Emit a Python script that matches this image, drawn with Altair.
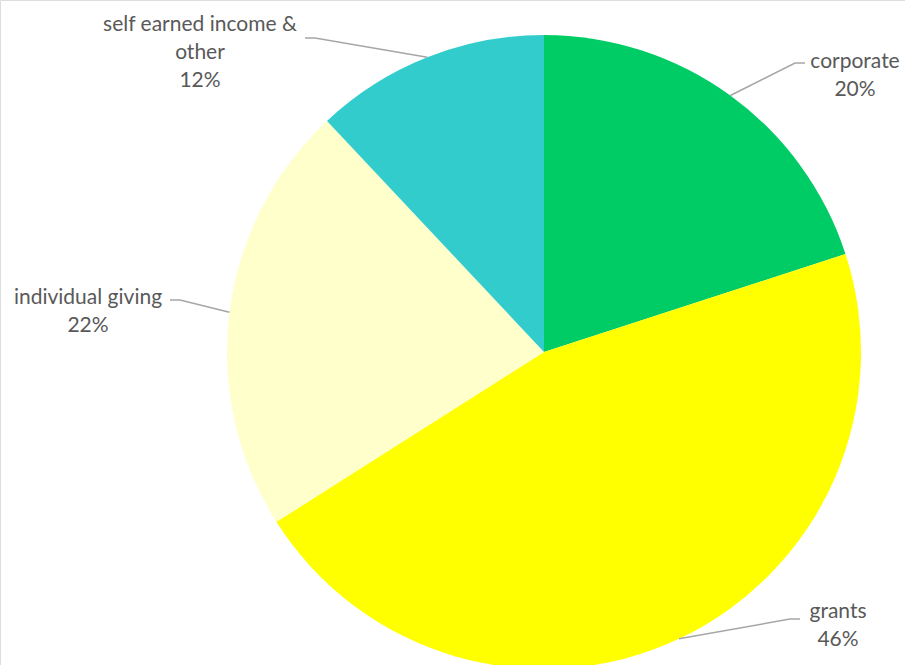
import altair as alt
import pandas as pd
import numpy as np

categories = ["corporate", "grants", "individual giving", "self earned income & other"]
shares = [20, 46, 22, 12]
colors = ["#00CC66", "#FFFF00", "#FFFFCC", "#33CCCC"]
label_text = ["corporate", "grants", "individual giving", "self earned income &\nother"]

# layout
W, H = 905, 665
CX, CY, R = 544, 352, 317
# text block centre x, first-line y, leader start (text side) x, y
label_layout = {
    "corporate": (855, 62, 805, 63),
    "grants": (838, 612, 800, 619),
    "individual giving": (88, 298, 170, 300),
    "self earned income & other": (200, 25, 305, 38),
}
LINE_H = 28

pie_df = pd.DataFrame({"category": categories, "share": shares, "order": range(len(categories))})

# mid-angle of each slice (clockwise from 12 o'clock)
total = float(sum(shares))
cum = np.cumsum([0] + shares)
mid = [(cum[i] + shares[i] / 2) / total * 2 * np.pi for i in range(len(shares))]

text_rows, line_rows = [], []
for i, cat in enumerate(categories):
    tx, ty, lx, ly = label_layout[cat]
    lines = label_text[i].split("\n") + [f"{shares[i]}%"]
    for j, s in enumerate(lines):
        text_rows.append({"t": s, "x": tx, "y": ty + j * LINE_H})
    ex = CX + R * np.sin(mid[i])
    ey = CY - R * np.cos(mid[i])
    step = 10 if ex > lx else -10
    pts = [(lx, ly), (lx + step, ly), (ex, ey)]
    for k, (px, py) in enumerate(pts):
        line_rows.append({"cat": cat, "k": k, "x": px, "y": py})

text_df = pd.DataFrame(text_rows)
line_df = pd.DataFrame(line_rows)

xs = alt.Scale(domain=[0, W], range=[0, W])
ys = alt.Scale(domain=[0, H], range=[0, H])

pie = alt.Chart(pie_df).mark_arc(outerRadius=R, stroke=None).encode(
    theta=alt.Theta("share:Q", stack=True),
    order=alt.Order("order:Q"),
    color=alt.Color("category:N", scale=alt.Scale(domain=categories, range=colors), legend=None),
    x=alt.value(CX),
    y=alt.value(CY),
)

leaders = alt.Chart(line_df).mark_line(color="#A6A6A6", strokeWidth=1.5).encode(
    x=alt.X("x:Q", scale=xs, axis=None),
    y=alt.Y("y:Q", scale=ys, axis=None),
    detail="cat:N",
    order="k:Q",
)

labels = alt.Chart(text_df).mark_text(
    font="Lato", fontSize=21, color="#595959", align="center", baseline="middle"
).encode(
    x=alt.X("x:Q", scale=xs, axis=None),
    y=alt.Y("y:Q", scale=ys, axis=None),
    text="t:N",
)

chart = alt.layer(pie, leaders, labels).properties(
    width=W, height=H, padding=0, autosize=alt.AutoSizeParams(type="none")
).configure_view(stroke=None, strokeWidth=0).configure(background="white")

chart.save("out.html", embed_options={"renderer": "svg", "actions": False})
